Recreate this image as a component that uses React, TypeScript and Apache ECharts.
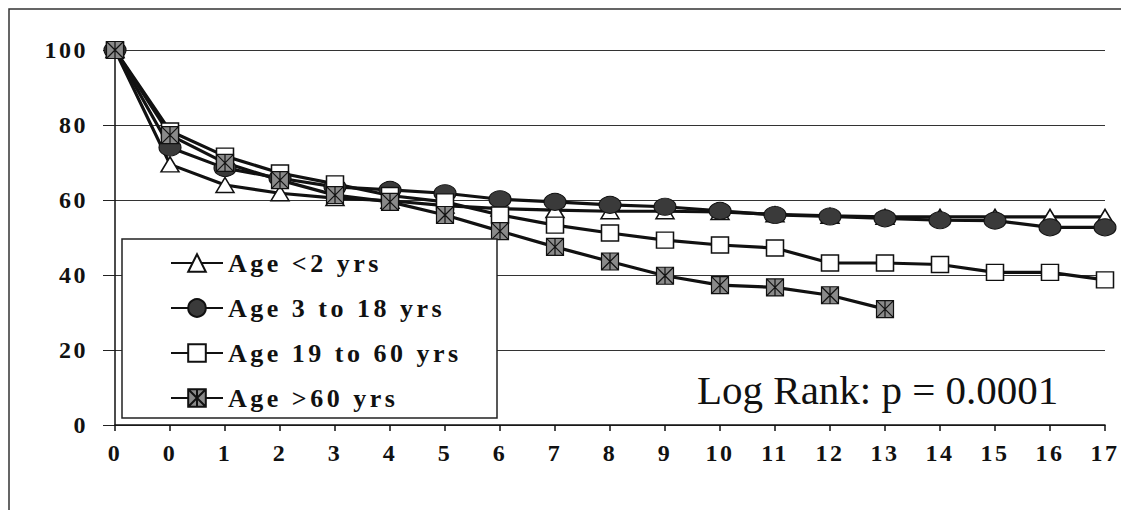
import React, { useEffect, useRef } from "react";
import * as echarts from "echarts";

const categories = ["0", "0", "1", "2", "3", "4", "5", "6", "7", "8", "9", "10", "11", "12", "13", "14", "15", "16", "17"];
const seriesNames = ["Age <2 yrs", "Age 3 to 18 yrs", "Age 19 to 60 yrs", "Age >60 yrs"];
const ageUnder2 = [100, 69.5, 64, 61.8, 60.5, 59.8, 58.5, 57.7, 57.3, 57, 57, 56.8, 56.2, 55.8, 55.5, 55.5, 55.5, 55.5, 55.5];
const age3to18 = [100, 74, 68.5, 65.8, 63.5, 62.7, 61.8, 60.2, 59.5, 58.7, 58.2, 57.1, 56, 55.6, 55.1, 54.6, 54.5, 52.7, 52.7];
const age19to60 = [100, 78.4, 71.7, 67.2, 64.3, 61.2, 59.5, 56, 53.3, 51.2, 49.3, 48, 47.2, 43.2, 43.2, 42.8, 40.7, 40.7, 38.7];
const ageOver60 = [100, 77.3, 69.9, 65.3, 61.3, 59.5, 56, 51.7, 47.5, 43.6, 39.8, 37.3, 36.7, 34.6, 30.9];
const yTicks = { min: 0, max: 100, interval: 20 };
const annotation = "Log Rank: p = 0.0001";

const FONT = "'Liberation Serif', 'Times New Roman', serif";
const STAR = "path://M0,0 L16,0 L16,16 L0,16 Z M0,0 L16,16 M16,0 L0,16 M8,0 L8,16";

export default function App() {
  const ref = useRef<HTMLDivElement>(null);

  useEffect(() => {
    if (!ref.current) return;
    const chart = echarts.init(ref.current, undefined, { renderer: "svg" });

    const lineStyle = { color: "#111", width: 3.2 };
    const base = {
      type: "line" as const,
      silent: true,
      lineStyle,
      emphasis: { disabled: true },
    };

    chart.setOption({
      animation: false,
      backgroundColor: "#fff",
      textStyle: { fontFamily: FONT },
      grid: { left: 107, right: 24, top: 42, bottom: 85, containLabel: false },
      xAxis: {
        type: "category",
        data: categories,
        boundaryGap: false,
        axisLine: { show: true, lineStyle: { color: "#111", width: 1.5 } },
        axisTick: { show: true, length: 6, interval: 0, lineStyle: { color: "#111", width: 1.5 } },
        axisLabel: { interval: 0, margin: 16, fontSize: 24, fontWeight: "bold", fontFamily: FONT, color: "#111" },
        splitLine: { show: false },
      },
      yAxis: {
        type: "value",
        min: yTicks.min,
        max: yTicks.max,
        interval: yTicks.interval,
        axisLine: { show: true, lineStyle: { color: "#111", width: 1.5 } },
        axisTick: { show: true, length: 12, lineStyle: { color: "#222", width: 1 } },
        axisLabel: { margin: 27, fontSize: 24, fontWeight: "bold", fontFamily: FONT, color: "#111", padding: [0, 0, 6, 0] },
        splitLine: { show: true, lineStyle: { color: "#333", width: 1.2 } },
      },
      legend: {
        orient: "vertical",
        left: 162,
        top: 242,
        padding: 0,
        itemWidth: 52,
        itemHeight: 22,
        itemGap: 19,
        selectedMode: false,
        data: seriesNames,
        textStyle: { fontSize: 26, fontWeight: "bold", fontFamily: FONT, color: "#111" },
        z: 10,
      },
      graphic: [
        {
          type: "rect",
          z: 5,
          silent: true,
          shape: { x: 114, y: 231, width: 375, height: 179 },
          style: { fill: "#fff", stroke: "#222", lineWidth: 1.5 },
        },
        {
          type: "rect",
          z: 1,
          silent: true,
          shape: { x: 1, y: 1, width: 1118, height: 530 },
          style: { fill: "none", stroke: "#333", lineWidth: 1.5 },
        },
        {
          type: "text",
          z: 6,
          silent: true,
          x: 689,
          y: 382,
          style: {
            text: annotation,
            fontSize: 41,
            fontFamily: FONT,
            fontWeight: "normal",
            fill: "#111",
            textAlign: "left",
            textVerticalAlign: "middle",
          },
        },
      ],
      series: [
        {
          ...base,
          name: seriesNames[0],
          data: ageUnder2,
          symbol: "triangle",
          symbolSize: [18, 15],
          itemStyle: { color: "#fff", borderColor: "#111", borderWidth: 1.5 },
        },
        {
          ...base,
          name: seriesNames[1],
          data: age3to18,
          symbol: "circle",
          symbolSize: [22, 17],
          itemStyle: { color: "#3a3a3a", borderColor: "#111", borderWidth: 1 },
        },
        {
          ...base,
          name: seriesNames[2],
          data: age19to60,
          symbol: "rect",
          symbolSize: [17, 16],
          itemStyle: { color: "#fff", borderColor: "#111", borderWidth: 1.5 },
        },
        {
          ...base,
          name: seriesNames[3],
          data: ageOver60,
          symbol: STAR,
          symbolSize: 17,
          symbolKeepAspect: true,
          itemStyle: { color: "#8a8a8a", borderColor: "#111", borderWidth: 1.2 },
        },
      ],
    });

    const applySpacing = () => {
      const root = ref.current;
      if (!root) return;
      root.querySelectorAll("text").forEach((t) => {
        const st = t.getAttribute("style") || "";
        if (/bold|700/.test(st)) {
          const sp = /26px/.test(st) ? 3.5 : 2.5;
          (t as SVGTextElement).style.letterSpacing = sp + "px";
        }
      });
    };
    applySpacing();
    chart.on("finished", applySpacing);
    const raf = requestAnimationFrame(applySpacing);

    return () => {
      cancelAnimationFrame(raf);
      chart.dispose();
    };
  }, []);

  return <div ref={ref} style={{ width: 1121, height: 502 }} />;
}
